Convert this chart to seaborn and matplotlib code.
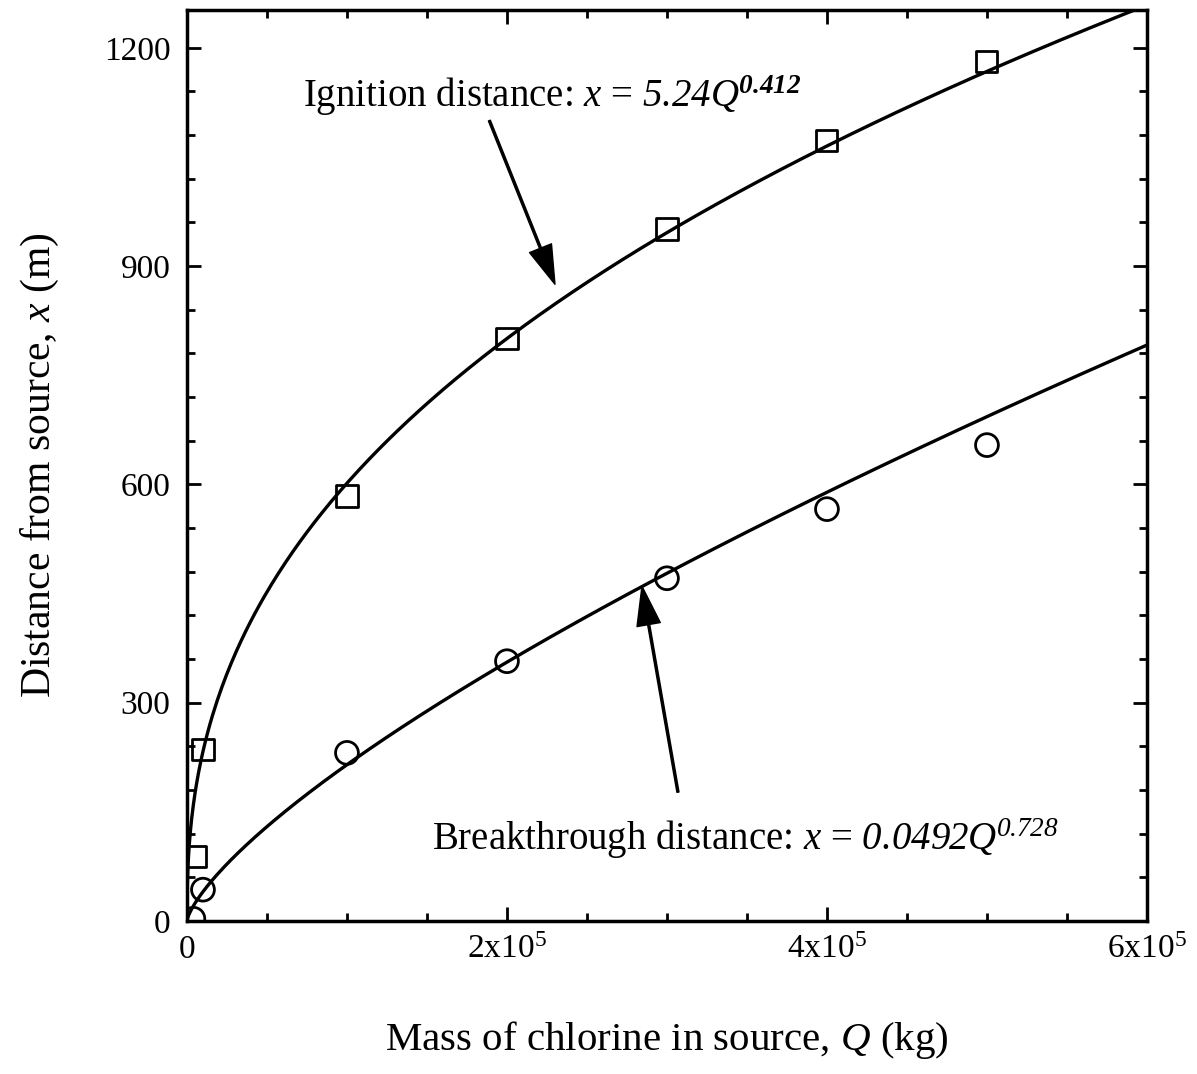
import numpy as np
import pandas as pd
import matplotlib
matplotlib.use('Agg')
import matplotlib.pyplot as plt
from matplotlib.ticker import MultipleLocator, FixedLocator
import seaborn as sns

q_ignition = [5e3, 1e4, 1e5, 2e5, 3e5, 4e5, 5e5]
x_ignition = [88, 235, 584, 801, 951, 1073, 1181]
q_breakthrough = [4e3, 1e4, 1e5, 2e5, 3e5, 4e5, 5e5]
x_breakthrough = [3, 43, 231, 357, 471, 566, 654]

# fitted power laws printed on the chart: x = a * Q^b
ign_a, ign_b = 5.24, 0.412
brk_a, brk_b = 0.0492, 0.728

x_ticks = [0, 2e5, 4e5, 6e5]
x_ticklabels = ['0', r'$\mathregular{2x10^5}$', r'$\mathregular{4x10^5}$', r'$\mathregular{6x10^5}$']
y_ticks = [0, 300, 600, 900, 1200]

sns.set_style('ticks')
plt.rcParams['font.family'] = ['Liberation Serif', 'DejaVu Serif']
plt.rcParams['mathtext.fontset'] = 'custom'
plt.rcParams['mathtext.rm'] = 'Liberation Serif'
plt.rcParams['mathtext.it'] = 'Liberation Serif:italic'
plt.rcParams['mathtext.sf'] = 'Liberation Serif:italic'  # italic digits too
plt.rcParams['mathtext.bf'] = 'Liberation Serif:bold:italic'
plt.rcParams['text.color'] = 'black'
plt.rcParams['axes.labelcolor'] = 'black'
plt.rcParams['xtick.color'] = 'black'
plt.rcParams['ytick.color'] = 'black'

fig = plt.figure(figsize=(11.97, 10.74), dpi=100)
ax = fig.add_axes([0.1562, 0.1425, 0.802, 0.8482])

q_fit = np.concatenate([np.geomspace(1, 1e4, 200), np.linspace(1e4, 6e5, 400)])
fit_df = pd.DataFrame({
    'Q': q_fit,
    'ign': ign_a * q_fit ** ign_b,
    'brk': brk_a * q_fit ** brk_b,
})
fit_df = pd.concat([pd.DataFrame({'Q': [0.0], 'ign': [0.0], 'brk': [0.0]}), fit_df])

sns.lineplot(data=fit_df, x='Q', y='ign', color='black', linewidth=2.4, ax=ax, sort=False)
sns.lineplot(data=fit_df, x='Q', y='brk', color='black', linewidth=2.4, ax=ax, sort=False)

sns.scatterplot(x=q_ignition, y=x_ignition, marker='s', s=230, facecolor='none',
                edgecolor='black', linewidth=2, ax=ax, zorder=5)
sns.scatterplot(x=q_breakthrough, y=x_breakthrough, marker='o', s=270, facecolor='none',
                edgecolor='black', linewidth=2, ax=ax, zorder=5)

ax.set_xlim(0, 6e5)
ax.set_ylim(0, 1252)
ax.xaxis.set_major_locator(FixedLocator(x_ticks))
ax.set_xticklabels(x_ticklabels)
ax.xaxis.set_minor_locator(MultipleLocator(5e4))
ax.yaxis.set_major_locator(FixedLocator(y_ticks))
ax.yaxis.set_minor_locator(MultipleLocator(60))

ax.tick_params(which='both', direction='in', top=True, right=True, width=2, labelsize=24, color='black')
ax.tick_params(which='major', length=10)
ax.tick_params(which='minor', length=6)
ax.tick_params(axis='x', pad=10)
ax.tick_params(axis='y', pad=12)
for sp in ax.spines.values():
    sp.set_linewidth(2.5)
    sp.set_color('black')

ax.set_xlabel(r'Mass of chlorine in source, $Q$ (kg)', fontsize=29.5, va='center')
ax.xaxis.set_label_coords(0.5, -0.131)
ax.set_ylabel(r'Distance from source, $x$ (m)', fontsize=30, va='center')
ax.yaxis.set_label_coords(-0.153, 0.5)

arrow_kw = dict(facecolor='black', edgecolor='black', width=1.5, headwidth=17, headlength=28, shrink=0)
ax.annotate('', xy=(230000, 875), xytext=(189000, 1100), arrowprops=arrow_kw)
ax.annotate('', xy=(284375, 460), xytext=(306875, 177), arrowprops=arrow_kw)

ax.text(72500, 1119, r'Ignition distance: $x$ = $\mathsf{5.24Q}^{\mathbf{0.412}}$',
        fontsize=28, va='baseline', ha='left')
ax.text(153125, 97, r'Breakthrough distance: $x$ = $\mathsf{0.0492Q}^{\mathsf{0.728}}$',
        fontsize=28, va='baseline', ha='left')

fig.savefig('out.png', dpi=100)
plt.close(fig)
